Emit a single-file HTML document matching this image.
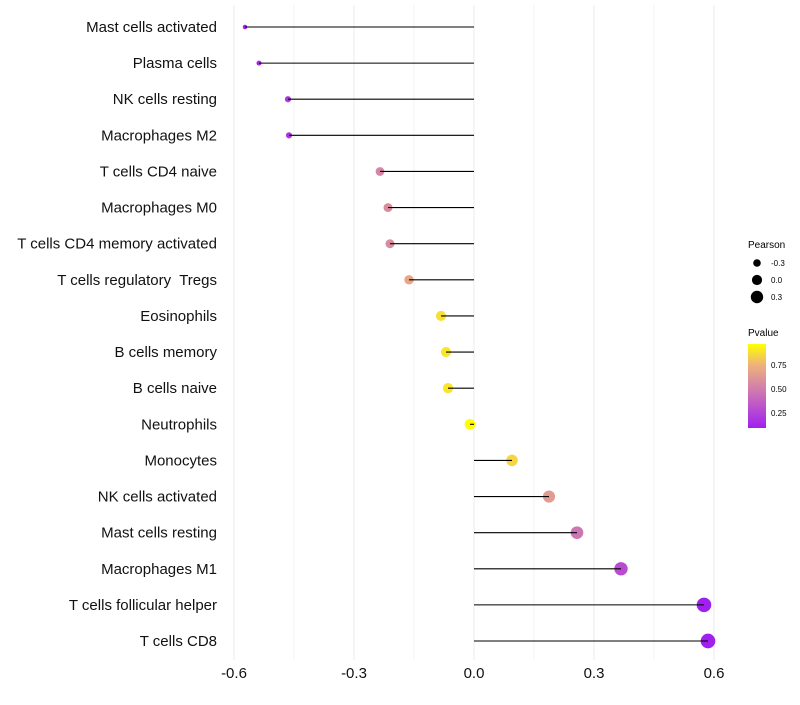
<!DOCTYPE html>
<html><head><meta charset="utf-8"><style>
body{margin:0;background:#fff;font-family:"Liberation Sans",sans-serif}
text{white-space:pre}
</style></head><body>
<svg id="chart" width="800" height="700" xmlns="http://www.w3.org/2000/svg" font-family="Liberation Sans, sans-serif">
<defs><linearGradient id="pg" x1="0" y1="1" x2="0" y2="0">
<stop offset="0" stop-color="#A020F0"/><stop offset="0.45" stop-color="#D07AB0"/><stop offset="0.75" stop-color="#EEB27A"/><stop offset="1" stop-color="#FFFF00"/></linearGradient></defs>
<g id="grid"></g><g id="points"></g><g id="marks"></g><g id="labels"></g>
<g>
<text x="748" y="248" font-size="10">Pearson</text>
<circle cx="757" cy="263" r="3.8" fill="#000"/><text x="771" y="266" font-size="8">-0.3</text>
<circle cx="757" cy="280" r="5.1" fill="#000"/><text x="771" y="283" font-size="8">0.0</text>
<circle cx="757" cy="297" r="6.2" fill="#000"/><text x="771" y="300" font-size="8">0.3</text>
<text x="748" y="336" font-size="10">Pvalue</text>
<rect x="748" y="344" width="18" height="84" fill="url(#pg)"/>
<text x="771" y="368" font-size="8">0.75</text><text x="771" y="392" font-size="8">0.50</text><text x="771" y="416" font-size="8">0.25</text>
</g>
</svg>
<script>
const categories=["Mast cells activated","Plasma cells","NK cells resting","Macrophages M2","T cells CD4 naive","Macrophages M0","T cells CD4 memory activated","T cells regulatory  Tregs","Eosinophils","B cells memory","B cells naive","Neutrophils","Monocytes","NK cells activated","Mast cells resting","Macrophages M1","T cells follicular helper","T cells CD8"];
const pearson=[-0.5725,-0.5375,-0.465,-0.4625,-0.235,-0.215,-0.21,-0.1625,-0.0825,-0.07,-0.065,-0.01,0.095,0.1875,0.2575,0.3675,0.575,0.585];
const pvalues=[0.1,0.15,0.2,0.2,0.55,0.58,0.58,0.7,0.88,0.9,0.9,0.98,0.85,0.65,0.48,0.3,0.1,0.1];
const ticks=[-0.6,-0.3,0.0,0.3,0.6];
const NS="http://www.w3.org/2000/svg";
const x=v=>474+v*400;
const y=i=>27+i*(641-27)/17;
const r=v=>Math.sqrt(Math.max(3,29+42*v));
function col(p){const st=[[0,[160,32,240]],[0.45,[208,122,176]],[0.75,[238,178,122]],[1,[255,255,0]]];
 const t=Math.min(1,Math.max(0,(p-0.11)/0.86));
 for(let k=1;k<st.length;k++){if(t<=st[k][0]){const a=st[k-1],b=st[k],f=(t-a[0])/(b[0]-a[0]);
 return "rgb("+a[1].map((c,j)=>Math.round(c+(b[1][j]-c)*f)).join(",")+")";}}return "rgb(255,255,0)";}
function mk(tag,at){const e=document.createElementNS(NS,tag);for(const k in at)e.setAttribute(k,at[k]);return e;}
const grid=document.getElementById('grid'),marks=document.getElementById('marks'),points=document.getElementById('points'),labels=document.getElementById('labels');
for(let i=0;i<ticks.length-1;i++){const m=(ticks[i]+ticks[i+1])/2;
 const l=mk('line',{x1:x(m),x2:x(m),y1:5,y2:660,stroke:'#f3f3f3','stroke-width':1});
 
 grid.appendChild(l);}
ticks.forEach(t=>{const l=mk('line',{x1:x(t),x2:x(t),y1:5,y2:660,stroke:'#ebebeb','stroke-width':1});
 
 grid.appendChild(l);
 const tx=mk('text',{x:x(t),y:678,'font-size':15,'text-anchor':'middle',fill:'#111'});
 tx.textContent=t.toFixed(1);
 
 labels.appendChild(tx);});
categories.forEach((c,i)=>{
 const p=mk('circle',{cx:x(pearson[i]),cy:y(i),r:r(pearson[i]),fill:col(pvalues[i])});
 
 points.appendChild(p);
 const s=mk('line',{x1:x(0),x2:x(pearson[i]),y1:y(i),y2:y(i),stroke:'#000','stroke-width':1.1});
 
 marks.appendChild(s);
 const t=mk('text',{x:217,y:y(i)+5,'font-size':15,'text-anchor':'end',fill:'#111'});
 t.textContent=c;
 
 labels.appendChild(t);});
</script>
</body></html>
